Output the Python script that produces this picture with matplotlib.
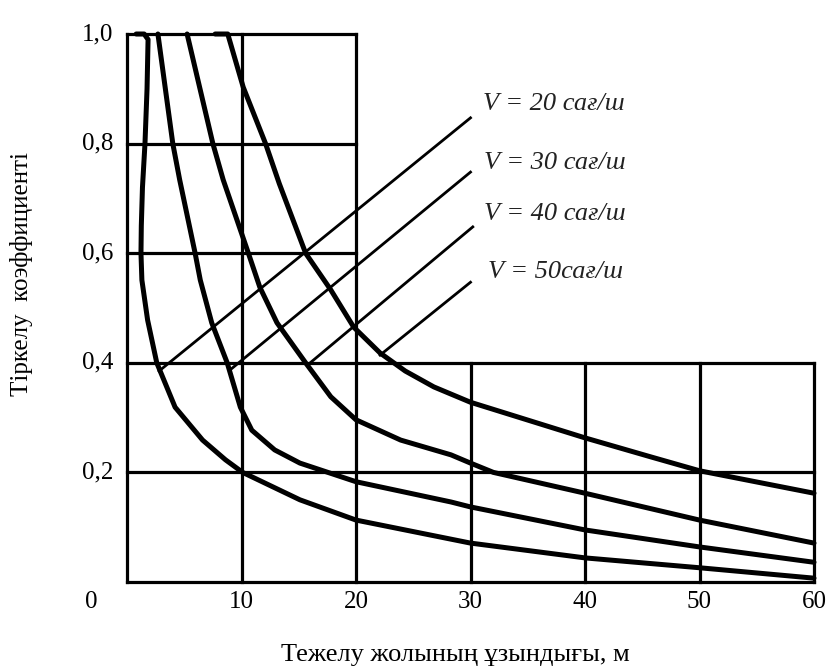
# %%
# Braking length vs. adhesion coefficient chart (recreated)
import matplotlib
matplotlib.use('Agg')
import matplotlib.pyplot as plt

plt.rcParams['font.family'] = ['Liberation Serif', 'DejaVu Serif']

# curve data (x = braking length, m ; y = coefficient)
v20_x = [0.8, 1.5, 1.84, 1.75, 1.57, 1.35, 1.25, 1.22, 1.3, 1.8, 2.6, 4.2, 6.6, 8.6, 10.1, 15.1, 20, 25, 30, 40, 50, 60]
v20_y = [1.0, 1.0, 0.99, 0.9, 0.80, 0.72, 0.65, 0.60, 0.551, 0.478, 0.40, 0.319, 0.259, 0.223, 0.2, 0.15, 0.113, 0.092, 0.071, 0.044, 0.026, 0.007]

v30_x = [2.7, 4.0, 4.6, 5.95, 6.4, 7.4, 8.75, 9.9, 10.9, 12.9, 15.1, 20, 28.3, 30, 40, 50, 60]
v30_y = [1.0, 0.80, 0.734, 0.60, 0.551, 0.473, 0.40, 0.319, 0.277, 0.241, 0.217, 0.183, 0.146, 0.137, 0.095, 0.064, 0.036]

v40_x = [5.25, 7.5, 8.4, 10.6, 11.6, 13.1, 15.6, 17.8, 20, 23.9, 28.3, 30, 32, 40, 50, 60]
v40_y = [1.0, 0.80, 0.734, 0.60, 0.538, 0.473, 0.40, 0.338, 0.296, 0.259, 0.232, 0.217, 0.2, 0.162, 0.113, 0.071]

v50_x = [7.7, 8.8, 10.15, 12.1, 13.3, 15.6, 17.8, 19.8, 22.1, 24.3, 26.8, 30, 40, 45.8, 50, 60]
v50_y = [1.0, 1.0, 0.903, 0.80, 0.727, 0.60, 0.533, 0.465, 0.418, 0.385, 0.356, 0.328, 0.263, 0.228, 0.203, 0.162]

curves = [(v20_x, v20_y), (v30_x, v30_y), (v40_x, v40_y), (v50_x, v50_y)]

# labels and their leader lines
labels = ['V = 20 сағ/ш', 'V = 30 сағ/ш', 'V = 40 сағ/ш', 'V = 50сағ/ш']
leader_start = [(2.8, 0.385), (9.0, 0.387), (16.0, 0.40), (22.1, 0.414)]
leader_end = [(30.0, 0.847), (30.0, 0.748), (30.2, 0.648), (30.0, 0.547)]
label_pos = [(31.06, 0.872), (31.15, 0.765), (31.15, 0.672), (31.5, 0.566)]

x_ticks = [10, 20, 30, 40, 50, 60]
y_ticks = [0.2, 0.4, 0.6, 0.8, 1.0]
y_tick_labels = ['0,2', '0,4', '0,6', '0,8', '1,0']

# %%
fig = plt.figure(figsize=(8.26, 6.70), dpi=100)
ax = fig.add_axes([127/826, 88/670, 687/826, 548/670])
ax.set_xlim(0, 60)
ax.set_ylim(0, 1.0)
for s in ax.spines.values():
    s.set_visible(False)
ax.set_xticks([])
ax.set_yticks([])

grid_kw = dict(color='black', lw=2.3, clip_on=False, solid_capstyle='projecting')
# upper-left block of the grid (x 0..20, y up to 1.0)
ax.plot([0, 0], [0, 1.0], **grid_kw)
for xv in [10, 20]:
    ax.plot([xv, xv], [0, 1.0], **grid_kw)
for yv in [0.6, 0.8, 1.0]:
    ax.plot([0, 20], [yv, yv], **grid_kw)
# lower block (x 0..60, y up to 0.4)
for yv in [0, 0.2, 0.4]:
    ax.plot([0, 60], [yv, yv], **grid_kw)
for xv in [30, 40, 50, 60]:
    ax.plot([xv, xv], [0, 0.4], **grid_kw)

for cx, cy in curves:
    ax.plot(cx, cy, color='black', lw=3.6, clip_on=False,
            solid_joinstyle='round', solid_capstyle='round')

for (x0, y0), (x1, y1), (tx, ty), lab in zip(leader_start, leader_end, label_pos, labels):
    ax.plot([x0, x1], [y0, y1], color='black', lw=2.0, clip_on=False)
    ax.text(tx, ty, lab, fontsize=19, style='italic', color='#222222',
            ha='left', va='center')

# tick labels as text (the picture has no tick marks)
for yv, lab in zip(y_ticks, y_tick_labels):
    ax.text(-1.2, yv, lab, fontsize=18, ha='right', va='center')
for xv in x_ticks:
    ax.text(xv, -0.017, str(xv), fontsize=18, ha='center', va='top')
ax.text(-3.1, -0.017, '0', fontsize=18, ha='center', va='top')

fig.text(455/826, 1 - 655/670, 'Тежелу жолының ұзындығы, м', fontsize=19,
         ha='center', va='center')
fig.text(22/826, 1 - 274/670, 'Тіркелу  коэффициенті', fontsize=18,
         ha='center', va='center', rotation=90)

fig.savefig('out.png', dpi=100)
